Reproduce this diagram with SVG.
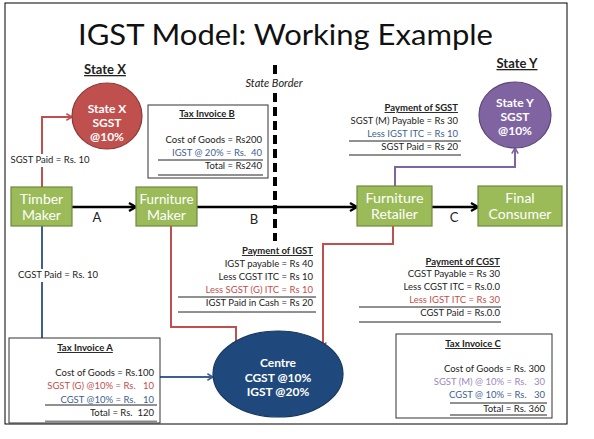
<svg xmlns="http://www.w3.org/2000/svg" width="594" height="439" viewBox="0 0 594 439">
<style>
text{font-family:"Lato","Liberation Sans",sans-serif;}
.t{font-size:9.5px;fill:#222;white-space:pre;}
.r{text-anchor:end;}
.h{font-size:9.5px;font-weight:bold;fill:#222;text-decoration:underline;}
.red{fill:#C0504D;}
.blu{fill:#3F5F8F;}
.pur{fill:#9B88BD;}
.box{fill:#9BBB59;stroke:#71893F;stroke-width:1.2;}
.bt{font-size:14px;fill:#fff;text-anchor:middle;}
.ct{font-size:12px;font-weight:bold;fill:#fff;text-anchor:middle;}
.rule{stroke:#222;stroke-width:1;}
.inv{fill:#fff;stroke:#333;stroke-width:1;}
.lbl{font-size:13px;fill:#222;text-anchor:middle;}
.cr{fill:none;stroke:#C0504D;stroke-width:2;}
.cb{fill:none;stroke:#3F5F8F;stroke-width:2;}
.cp{fill:none;stroke:#8064A2;stroke-width:2;}
.ck{fill:none;stroke:#000;stroke-width:2.5;}
</style>
<defs>
<marker id="ak" viewBox="0 0 10 10" refX="9" refY="5" markerWidth="10" markerHeight="10" markerUnits="userSpaceOnUse" orient="auto"><path d="M2,1 L9,5 L2,9" fill="none" stroke="#000" stroke-width="2.2"/></marker>
<marker id="ar" viewBox="0 0 10 10" refX="9" refY="5" markerWidth="8" markerHeight="8" markerUnits="userSpaceOnUse" orient="auto"><path d="M2,1 L9,5 L2,9" fill="none" stroke="#C0504D" stroke-width="2"/></marker>
<marker id="ab" viewBox="0 0 10 10" refX="9" refY="5" markerWidth="8" markerHeight="8" markerUnits="userSpaceOnUse" orient="auto"><path d="M2,1 L9,5 L2,9" fill="none" stroke="#3F5F8F" stroke-width="2"/></marker>
<marker id="ap" viewBox="0 0 10 10" refX="9" refY="5" markerWidth="8" markerHeight="8" markerUnits="userSpaceOnUse" orient="auto"><path d="M2,1 L9,5 L2,9" fill="none" stroke="#8064A2" stroke-width="2"/></marker>
</defs>
<rect x="0" y="0" width="594" height="439" fill="#fff"/>
<rect x="5" y="3" width="562" height="421" fill="none" stroke="#000" stroke-width="1"/>
<text x="78" y="45" font-size="29" fill="#111" textLength="415" lengthAdjust="spacingAndGlyphs">IGST Model: Working Example</text>
<text x="105" y="74" font-size="13" font-weight="bold" fill="#222" text-anchor="middle" text-decoration="underline">State X</text>
<text x="517" y="68" font-size="13" font-weight="bold" fill="#222" text-anchor="middle" text-decoration="underline">State Y</text>
<text x="274" y="87" font-size="11" font-style="italic" fill="#222" text-anchor="middle">State Border</text>
<g id="border">
<line x1="275" y1="65" x2="275" y2="74" stroke="#000" stroke-width="4"/>
<line x1="275" y1="93" x2="275" y2="241" stroke="#000" stroke-width="4" stroke-dasharray="9 5"/>
</g>
<g id="connectors">
<polyline class="cr" points="42,187 42,117 72,117" marker-end="url(#ar)"/>
<polyline class="cb" points="42,226 42,338"/>
<line class="ck" x1="72" y1="207" x2="136" y2="207" marker-end="url(#ak)"/>
<line class="ck" x1="197" y1="207" x2="357" y2="207" marker-end="url(#ak)"/>
<line class="ck" x1="432" y1="207" x2="478" y2="207" marker-end="url(#ak)"/>
<polyline class="cp" points="395,186 395,167 515,167 515,148" marker-end="url(#ap)"/>
<polyline class="cr" points="171,226 171,327 236,327 236,348" marker-end="url(#ar)"/>
<polyline class="cr" points="393,226 393,244 323,244 323,348" marker-end="url(#ar)"/>
<line class="cb" x1="160" y1="377" x2="213" y2="377" marker-end="url(#ab)"/>
<rect x="9" y="154" width="83" height="13" fill="#fff"/>
<text class="t" x="50" y="163" text-anchor="middle">SGST Paid = Rs. 10</text>
<rect x="16" y="269" width="86" height="13" fill="#fff"/>
<text class="t" x="58" y="278" text-anchor="middle">CGST Paid = Rs. 10</text>
<text class="lbl" x="97" y="222">A</text>
<text class="lbl" x="254" y="224">B</text>
<text class="lbl" x="454" y="222">C</text>
</g>
<g id="stateX">
<ellipse cx="107" cy="116" rx="35" ry="33" fill="#C0504D" stroke="#8C3836" stroke-width="1.2"/>
<text class="ct" x="107" y="113">State X</text>
<text class="ct" x="107" y="127">SGST</text>
<text class="ct" x="107" y="141">@10%</text>
</g>
<g id="stateY">
<ellipse cx="515" cy="115" rx="36" ry="33" fill="#8064A2" stroke="#5C4776" stroke-width="1.2"/>
<text class="ct" x="515" y="107">State Y</text>
<text class="ct" x="515" y="121">SGST</text>
<text class="ct" x="515" y="135">@10%</text>
</g>
<g id="centre">
<ellipse cx="278" cy="374" rx="65" ry="43" fill="#1F497D" stroke="#17375E" stroke-width="1.2"/>
<text class="ct" x="278" y="367">Centre</text>
<text class="ct" x="278" y="382">CGST @10%</text>
<text class="ct" x="278" y="396">IGST @20%</text>
</g>
<g id="timber">
<rect class="box" x="11" y="187" width="61" height="39"/>
<text class="bt" x="41.5" y="204">Timber</text>
<text class="bt" x="41.5" y="220">Maker</text>
</g>
<g id="fmaker">
<rect class="box" x="136" y="187" width="61" height="39"/>
<text class="bt" x="166.5" y="204" textLength="54" lengthAdjust="spacingAndGlyphs">Furniture</text>
<text class="bt" x="166.5" y="220">Maker</text>
</g>
<g id="retailer">
<rect class="box" x="357" y="186" width="75" height="40"/>
<text class="bt" x="394.5" y="203" textLength="58" lengthAdjust="spacingAndGlyphs">Furniture</text>
<text class="bt" x="394.5" y="219">Retailer</text>
</g>
<g id="consumer">
<rect class="box" x="478" y="186" width="84" height="40"/>
<text class="bt" x="520" y="203">Final</text>
<text class="bt" x="520" y="219">Consumer</text>
</g>
<g id="invoiceB">
<rect class="inv" x="148" y="105" width="120" height="73"/>
<text class="h" x="207" y="117" text-anchor="middle">Tax Invoice B</text>
<text class="t r" x="262" y="143">Cost of Goods = Rs200</text>
<text class="t r blu" x="262" y="156" xml:space="preserve">IGST @ 20% = Rs.  40</text>
<line class="rule" x1="158" y1="160" x2="263" y2="160"/>
<text class="t r" x="262" y="169">Total = Rs240</text>
<line class="rule" x1="158" y1="175" x2="263" y2="175"/>
</g>
<g id="paySGST">
<text class="h r" x="458" y="111">Payment of SGST</text>
<text class="t r" x="458" y="124">SGST (M) Payable = Rs 30</text>
<text class="t r blu" x="458" y="137">Less IGST ITC = Rs 10</text>
<line class="rule" x1="349" y1="141" x2="461" y2="141"/>
<text class="t r" x="458" y="150">SGST Paid = Rs 20</text>
<line class="rule" x1="349" y1="155" x2="461" y2="155"/>
</g>
<g id="payIGST">
<text class="h r" x="313" y="254">Payment of IGST</text>
<text class="t r" x="313" y="267">IGST payable = Rs 40</text>
<text class="t r" x="313" y="280">Less CGST ITC = Rs 10</text>
<text class="t r red" x="313" y="293">Less SGST (G) ITC = Rs 10</text>
<line class="rule" x1="178" y1="297" x2="316" y2="297"/>
<text class="t r" x="313" y="306">IGST Paid in Cash = Rs 20</text>
<line class="rule" x1="178" y1="312" x2="316" y2="312"/>
</g>
<g id="payCGST">
<text class="h r" x="500" y="265">Payment of CGST</text>
<text class="t r" x="500" y="277">CGST Payable = Rs 30</text>
<text class="t r" x="500" y="290">Less CGST ITC = Rs.0.0</text>
<text class="t r red" x="500" y="303">Less IGST ITC = Rs 30</text>
<line class="rule" x1="359" y1="307" x2="501" y2="307"/>
<text class="t r" x="500" y="316">CGST Paid = Rs.0.0</text>
<line class="rule" x1="359" y1="322" x2="501" y2="322"/>
</g>
<g id="invoiceA">
<rect class="inv" x="9" y="338" width="151" height="85"/>
<text class="h" x="85" y="351" text-anchor="middle">Tax Invoice A</text>
<text class="t r" x="154" y="376">Cost of Goods = Rs.100</text>
<text class="t r red" x="154" y="389" xml:space="preserve">SGST (G) @10% = Rs.   10</text>
<text class="t r blu" x="154" y="403" xml:space="preserve">CGST @10% = Rs.   10</text>
<line class="rule" x1="45" y1="405" x2="157" y2="405"/>
<text class="t r" x="154" y="416" xml:space="preserve">Total = Rs.  120</text>
<line x1="45" y1="421.5" x2="157" y2="421.5" stroke="#888" stroke-width="2"/>
</g>
<g id="invoiceC">
<rect class="inv" x="396" y="334" width="156" height="84"/>
<text class="h" x="473" y="347" text-anchor="middle">Tax Invoice C</text>
<text class="t r" x="545" y="372">Cost of Goods = Rs. 300</text>
<text class="t r pur" x="545" y="385" xml:space="preserve">SGST (M) @ 10% = Rs.   30</text>
<text class="t r blu" x="545" y="398" xml:space="preserve">CGST @ 10% = Rs.   30</text>
<line class="rule" x1="450" y1="403" x2="547" y2="403"/>
<text class="t r" x="545" y="412">Total = Rs. 360</text>
<line class="rule" x1="450" y1="415" x2="547" y2="415"/>
</g>
</svg>
